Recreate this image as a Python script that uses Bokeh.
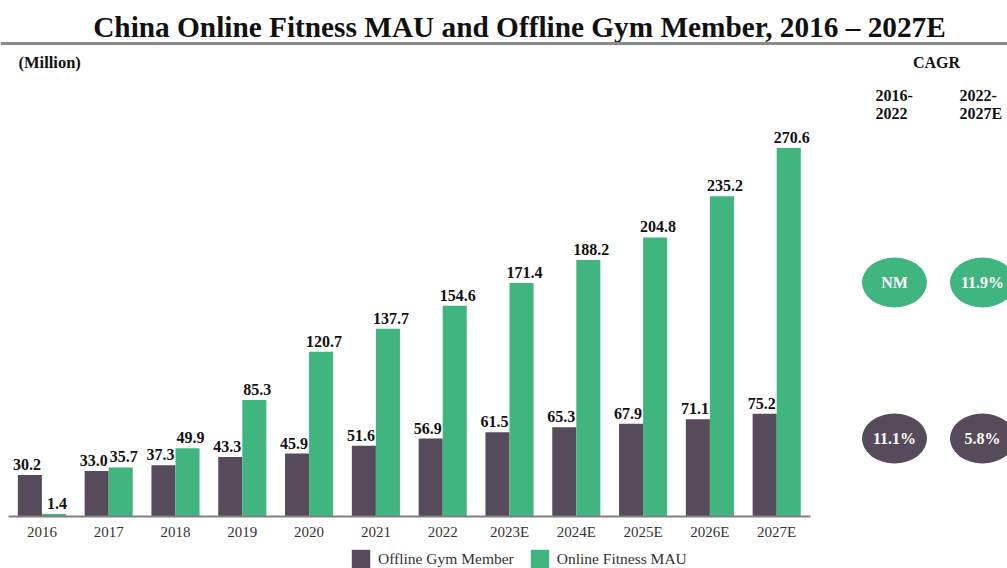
from bokeh.plotting import figure
from bokeh.models import (LinearAxis, FixedTicker, Range1d, Label, Span, Legend,
                          LegendItem, ColumnDataSource)
from bokeh.embed import file_html
from bokeh.resources import INLINE

years = ["2016", "2017", "2018", "2019", "2020", "2021", "2022",
         "2023E", "2024E", "2025E", "2026E", "2027E"]
offline = [30.2, 33.0, 37.3, 43.3, 45.9, 51.6, 56.9, 61.5, 65.3, 67.9, 71.1, 75.2]
online = [1.4, 35.7, 49.9, 85.3, 120.7, 137.7, 154.6, 171.4, 188.2, 204.8, 235.2, 270.6]
cagr_periods = [("2016-", "2022"), ("2022-", "2027E")]
cagr_online = ["NM", "11.9%"]
cagr_offline = ["11.1%", "5.8%"]

C_OFF = "#574a5b"
C_ON = "#41b580"
FONT = "Liberation Serif"

W, H = 1007, 568
STEP = 66.8          # px per category
PXU = 1.36           # px per million
BASE = 515.5         # baseline, px from top

def px2x(px):
    return -0.5 + (px - 8) / STEP

def py2y(py):
    return (BASE - py) / PXU

x_start, x_end = px2x(0), px2x(W)
y_start, y_end = py2y(H), py2y(0)

p = figure(width=W, height=H, output_backend="svg", toolbar_location=None,
           x_range=Range1d(x_start, x_end), y_range=Range1d(y_start, y_end),
           x_axis_type=None, y_axis_type=None, min_border=0,
           outline_line_color=None, background_fill_color="white")

idx = list(range(len(years)))
src = ColumnDataSource(dict(
    xo=[i - 0.18 for i in idx], xn=[i + 0.18 for i in idx],
    off=offline, on=online,
    off_t=[f"{v:.1f}" for v in offline], on_t=[f"{v:.1f}" for v in online]))

r_off = p.vbar(x="xo", top="off", width=0.36, bottom=0, source=src,
               fill_color=C_OFF, line_color=None)
r_on = p.vbar(x="xn", top="on", width=0.36, bottom=0, source=src,
              fill_color=C_ON, line_color=None)

p.text(x="xo", y="off", text="off_t", source=src, text_align="center",
       text_baseline="bottom", y_offset=-5, x_offset=-3,
       text_font={"value": FONT}, text_font_style="bold",
       text_font_size="16px", text_color="#111111")
p.text(x="xn", y="on", text="on_t", source=src, text_align="center",
       text_baseline="bottom", y_offset=-5, x_offset=3,
       text_font={"value": FONT}, text_font_style="bold",
       text_font_size="16px", text_color="#111111")

xaxis = LinearAxis(ticker=FixedTicker(ticks=idx),
                   major_label_overrides={i: y for i, y in enumerate(years)},
                   fixed_location=0, bounds=(-0.5, 11.5),
                   axis_line_color="#808080", axis_line_width=2,
                   major_tick_line_color=None, minor_tick_line_color=None,
                   major_label_standoff=2, major_label_text_font=FONT,
                   major_label_text_font_size="15px",
                   major_label_text_color="#333333")
p.add_layout(xaxis, "below")

# title and rule
p.add_layout(Label(x=px2x(519), y=py2y(26), text="China Online Fitness MAU and Offline Gym Member, 2016 \u2013 2027E",
                   text_align="center", text_baseline="middle", text_font=FONT,
                   text_font_style="bold", text_font_size="29.3px", text_color="#111111"))
p.add_layout(Span(location=py2y(43), dimension="width", line_color="#8a8a8a", line_width=3))

p.add_layout(Label(x=px2x(18), y=py2y(62), text="(Million)", text_align="left",
                   text_baseline="middle", text_font=FONT, text_font_style="bold",
                   text_font_size="16.5px", text_color="#111111"))
p.add_layout(Label(x=px2x(936), y=py2y(62), text="CAGR", text_align="center",
                   text_baseline="middle", text_font=FONT, text_font_style="bold",
                   text_font_size="16px", text_color="#111111"))

col_px = [875, 959]
for cx, (a, b) in zip(col_px, cagr_periods):
    for t, py in ((a, 95), (b, 113)):
        p.add_layout(Label(x=px2x(cx), y=py2y(py), text=t, text_align="left",
                           text_baseline="middle", text_font=FONT, text_font_style="bold",
                           text_font_size="16px", text_color="#111111"))

# CAGR bubbles
bx = [px2x(894), px2x(982)]
by_on, by_off = py2y(282), py2y(438)
bsrc = ColumnDataSource(dict(
    x=bx + bx, y=[by_on, by_on, by_off, by_off],
    t=cagr_online + cagr_offline, c=[C_ON, C_ON, C_OFF, C_OFF]))
p.ellipse(x="x", y="y", width=65, height=50, width_units="screen",
          height_units="screen", fill_color="c", line_color=None, source=bsrc)
p.text(x="x", y="y", text="t", source=bsrc, text_align="center",
       text_baseline="middle", text_font={"value": FONT}, text_font_style="bold",
       text_font_size="16px", text_color="white")

legend = Legend(items=[LegendItem(label="Offline Gym Member", renderers=[r_off]),
                       LegendItem(label="Online Fitness MAU", renderers=[r_on])],
                orientation="horizontal", location=(349, -2), padding=0, margin=0,
                border_line_color=None, background_fill_alpha=0,
                glyph_width=23, glyph_height=23, label_standoff=6, spacing=14,
                label_text_font=FONT, label_text_font_size="15.5px",
                label_text_color="#333333")
p.add_layout(legend)

open("out.html", "w").write(file_html(p, INLINE))
